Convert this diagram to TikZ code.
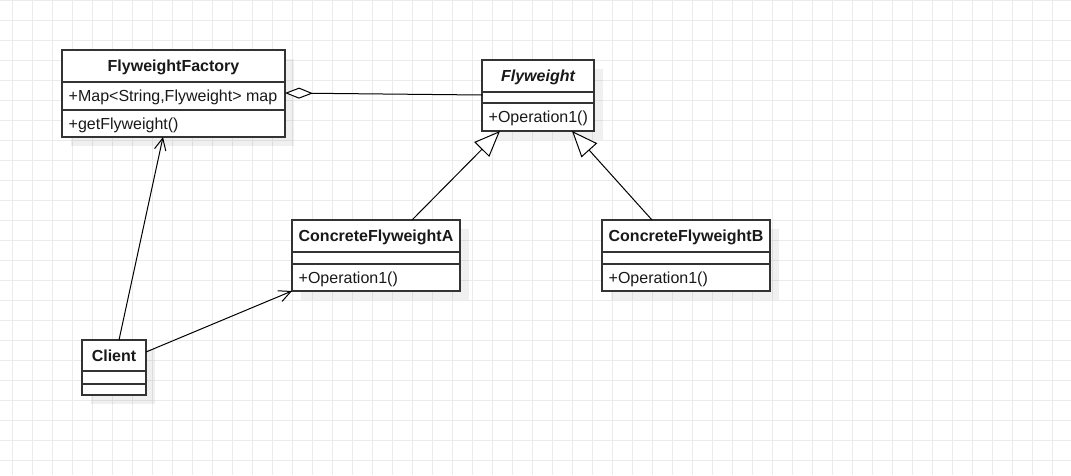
\documentclass[tikz,border=0pt]{standalone}
\usepackage{fontspec}
\setmainfont{Liberation Sans}
\usetikzlibrary{arrows.meta,calc}
\definecolor{gridc}{HTML}{EBEBEB}
\definecolor{boxc}{HTML}{333333}
\begin{document}
\begin{tikzpicture}[x=1pt,y=-1pt,
  box/.style={draw=boxc, line width=1.3pt, fill=white, inner sep=0pt, outer sep=0pt},
  sep/.style={draw=boxc, line width=1.3pt},
  shadowbox/.style={fill=black, opacity=0.06},
  txt/.style={inner sep=0pt, font=\fontsize{16pt}{19pt}\selectfont, text=black!90},
  hdr/.style={txt, anchor=base, font=\fontsize{16pt}{19pt}\selectfont\bfseries},
  mem/.style={txt, anchor=base west},
  conn/.style={draw=black, line width=1pt},
  inherit/.style={conn, -{Triangle[length=26pt,width=21pt,fill=white]}},
  uses/.style={conn, -{Straight Barb[length=12pt,width=11.5pt]}},
  agg/.style={conn, {Diamond[length=28pt,width=11pt,fill=white]}-}
]
\useasboundingbox (0,0) rectangle (1071,475);
\fill[white] (0,0) rectangle (1071,475);
\foreach \x in {12.5,32.5,...,1071} \draw[gridc, line width=1pt] (\x,0) -- (\x,475);
\foreach \y in {0,20,...,475} \draw[gridc, line width=1pt] (0,\y) -- (1071,\y);

\newcommand{\classbox}[5]{%
  \fill[shadowbox] (#2+9,#3+9) rectangle ++(#4,#5);
  \node[box, minimum width=#4pt, minimum height=#5pt, anchor=north west] (#1) at (#2,#3) {};
}

% FlyweightFactory
\classbox{ff}{62}{50}{223}{87}
\draw[sep] (62,82) -- (285,82);
\draw[sep] (62,110) -- (285,110);
\node[hdr] (ffname) at (173.5,71.7) {FlyweightFactory};
\node[mem] (ffattr) at (68.5,101.7) {+Map<String,Flyweight> map};
\node[mem] (ffop) at (68.5,129.2) {+getFlyweight()};

% Flyweight
\classbox{fw}{482}{60}{112}{71}
\draw[sep] (482,92) -- (594,92);
\draw[sep] (482,103) -- (594,103);
\node[hdr, font=\fontsize{16pt}{19pt}\selectfont\bfseries\itshape] (fwname) at (538,81.7) {Flyweight};
\node[mem] (fwop) at (488.5,122.7) {+Operation1()};

% ConcreteFlyweightA
\classbox{ca}{292}{220}{168}{71}
\draw[sep] (292,252) -- (460,252);
\draw[sep] (292,264) -- (460,264);
\node[hdr] (caname) at (376,241.7) {ConcreteFlyweightA};
\node[mem] (caop) at (298.5,283.2) {+Operation1()};

% ConcreteFlyweightB
\classbox{cb}{602}{220}{168}{71}
\draw[sep] (602,252) -- (770,252);
\draw[sep] (602,264) -- (770,264);
\node[hdr] (cbname) at (686,241.7) {ConcreteFlyweightB};
\node[mem] (cbop) at (608.5,283.2) {+Operation1()};

% Client
\classbox{cl}{82}{340}{64}{55}
\draw[sep] (82,371) -- (146,371);
\draw[sep] (82,384) -- (146,384);
\node[hdr] (clname) at (114,361.2) {Client};

% connectors
\draw[agg] ($(ff.north east)+(0,43)$) -- ($(fw.north west)+(0,35)$);
\draw[uses] ($(cl.north west)+(37,0)$) -- ($(ff.south west)+(101,0)$);
\draw[uses] ($(cl.north east)+(0,12)$) -- (ca.south west);
\draw[inherit] ($(ca.north west)+(120,0)$) -- ($(fw.south west)+(18,0)$);
\draw[inherit] ($(cb.north west)+(50,0)$) -- ($(fw.south west)+(90,0)$);
\end{tikzpicture}
\end{document}
